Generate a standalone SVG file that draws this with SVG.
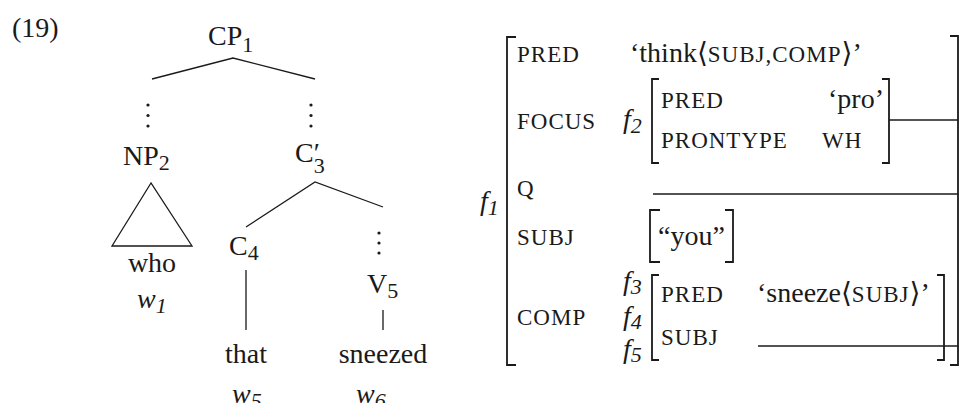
<svg xmlns="http://www.w3.org/2000/svg" width="960" height="403" viewBox="0 0 960 403">
<style>
text{font-family:"Liberation Serif","DejaVu Serif",serif;fill:#1a1a1a}
.t{font-size:28px}
.sub{font-size:22px}
.it{font-style:italic}
.sc{font-size:23px;letter-spacing:1px}
.ln{stroke:#1a1a1a;stroke-width:1.3;fill:none}
.br{stroke:#1a1a1a;stroke-width:1.8;fill:none}
.dot{fill:#1a1a1a}
</style>
<rect width="960" height="403" fill="#fff"/>
<text class="t" x="12" y="37">(19)</text>
<g id="connectors">
<polyline class="ln" points="152,79 233,58 315,79"/>
<polyline class="ln" points="246,227 315,182 383,207"/>
<line class="ln" x1="246" y1="270" x2="246" y2="330"/>
<line class="ln" x1="383" y1="310" x2="383" y2="330"/>
<circle class="dot" cx="148" cy="105" r="1.6"/><circle class="dot" cx="148" cy="115.5" r="1.6"/><circle class="dot" cx="148" cy="126" r="1.6"/>
<circle class="dot" cx="311" cy="105" r="1.6"/><circle class="dot" cx="311" cy="115.5" r="1.6"/><circle class="dot" cx="311" cy="126" r="1.6"/>
<circle class="dot" cx="379" cy="233" r="1.6"/><circle class="dot" cx="379" cy="243" r="1.6"/><circle class="dot" cx="379" cy="253" r="1.6"/>
<line class="ln" x1="889" y1="120" x2="958" y2="120"/>
<line class="ln" x1="653" y1="194" x2="958" y2="194"/>
<line class="ln" x1="758" y1="346" x2="958" y2="346"/>
</g>
<g id="CP1"><text class="t" x="208" y="45">CP<tspan class="sub" dy="7">1</tspan></text></g>
<g id="NP2"><text class="t" x="123" y="165">NP<tspan class="sub" dy="5">2</tspan></text>
<polygon class="ln" points="151,183 112,246 192,246"/></g>
<g id="Cbar3"><text class="t" x="295" y="162">C′<tspan class="sub" dx="-6" dy="11">3</tspan></text></g>
<g id="C4"><text class="t" x="229" y="255">C<tspan class="sub" dy="5">4</tspan></text></g>
<g id="V5"><text class="t" x="367" y="293">V<tspan class="sub" dy="5">5</tspan></text></g>
<g id="who"><text class="t" x="152" y="272" text-anchor="middle">who</text><text class="t it" x="137" y="308">w<tspan class="sub" dy="5">1</tspan></text></g>
<g id="that"><text class="t" x="246" y="363" text-anchor="middle">that</text><text class="t it" x="232" y="403">w<tspan class="sub" dy="5">5</tspan></text></g>
<g id="sneezed"><text class="t" x="383" y="363" text-anchor="middle">sneezed</text><text class="t it" x="356" y="403">w<tspan class="sub" dy="5">6</tspan></text></g>
<g id="f1">
<text class="t it" x="480" y="210">f<tspan class="sub" dy="5">1</tspan></text>
<path class="br" d="M516,37 H507 V365 H516"/>
<path class="br" d="M950,36 H958 V365 H950"/>
<text class="sc" x="517" y="62">PRED</text>
<text class="sc" x="517" y="129">FOCUS</text>
<text class="sc" x="517" y="196">Q</text>
<text class="sc" x="517" y="245">SUBJ</text>
<text class="sc" x="517" y="325">COMP</text>
<text class="t" x="630" y="62">‘think⟨<tspan class="sc">SUBJ,COMP</tspan>⟩’</text>
</g>
<g id="f2">
<text class="t it" x="623" y="128">f<tspan class="sub" dy="5">2</tspan></text>
<path class="br" d="M659,79 H652 V163 H659"/>
<path class="br" d="M882,79 H889 V163 H882"/>
<text class="sc" x="661" y="108">PRED</text>
<text class="sc" x="661" y="148">PRONTYPE</text>
<text class="t" x="828" y="108">‘pro’</text>
<text class="sc" x="822" y="148">WH</text>
</g>
<g id="you">
<path class="br" d="M660,210 H650 V262 H660"/>
<path class="br" d="M725,210 H733 V262 H725"/>
<text class="t" x="658" y="245">“you”</text>
</g>
<g id="f3">
<text class="t it" x="623" y="290">f<tspan class="sub" dy="4">3</tspan></text>
<text class="t it" x="623" y="325">f<tspan class="sub" dy="4">4</tspan></text>
<text class="t it" x="623" y="358">f<tspan class="sub" dy="4">5</tspan></text>
<path class="br" d="M659,275 H652 V360 H659"/>
<path class="br" d="M937,275 H944 V360 H937"/>
<text class="sc" x="661" y="302">PRED</text>
<text class="sc" x="661" y="345">SUBJ</text>
<text class="t" x="757" y="302">‘sneeze⟨<tspan class="sc">SUBJ</tspan>⟩’</text>
</g>
</svg>
